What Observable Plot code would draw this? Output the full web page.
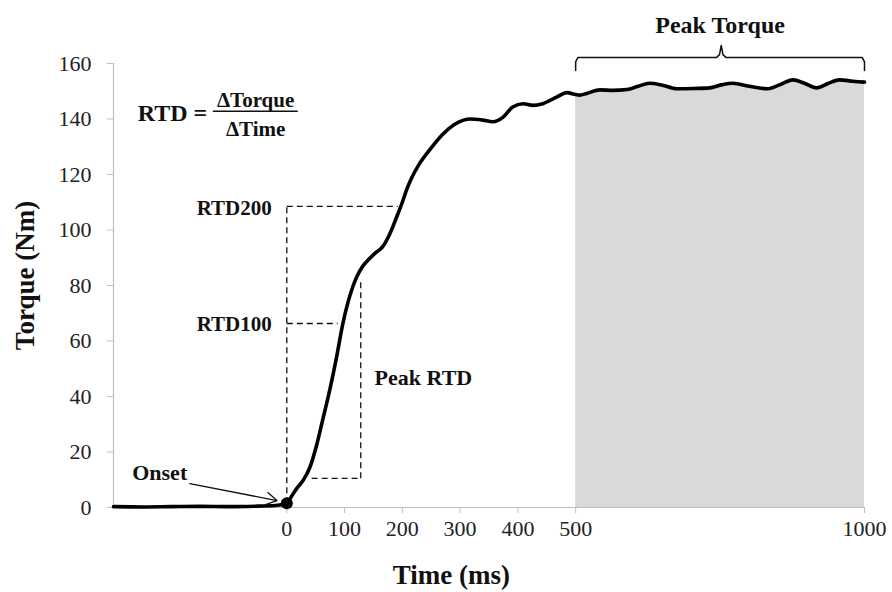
<!DOCTYPE html>
<html>
<head>
<meta charset="utf-8">
<script src="https://cdn.jsdelivr.net/npm/d3@7"></script>
<script src="https://cdn.jsdelivr.net/npm/@observablehq/plot@0.6"></script>
<style>
  html, body { margin: 0; padding: 0; background: #fff; }
  #chart svg { display: block; }
</style>
</head>
<body>
<div id="chart"></div>
<script>
// Torque-time curve (ms, Nm)
const timeMs = [-300, -250, -200, -150, -100, -50, -20, 0, 8, 17, 28, 40, 51, 62, 74, 86, 97, 106, 115, 122, 130, 140, 152, 166, 178, 190, 200, 207, 215, 230, 250, 270, 290, 306, 317, 339, 357, 374, 391, 409, 426, 443, 467, 485, 500, 507, 519, 542, 565, 589, 608, 628, 650, 675, 705, 732, 752, 772, 800, 831, 853, 876, 897, 917, 937, 957, 980, 1000];
const torqueNm = [0.3, 0.2, 0.3, 0.4, 0.3, 0.5, 0.7, 1.5, 4, 6.8, 9.7, 14.5, 22, 31.5, 42, 54, 66.3, 74, 80, 83.5, 86.5, 89, 91.5, 94, 98.5, 104.6, 110, 114.3, 118.3, 124, 129.6, 134.5, 138, 139.6, 140, 139.6, 139, 140.6, 144.3, 145.5, 144.9, 145.5, 147.9, 149.5, 148.8, 148.6, 149.2, 150.5, 150.3, 150.6, 151.8, 152.9, 152.2, 150.9, 151, 151.2, 152.3, 152.9, 151.8, 150.9, 152.3, 154.1, 152.8, 151.2, 152.8, 154.1, 153.6, 153.3];
const xTicks = [0, 100, 200, 300, 400, 500, 1000];
const yTicks = [0, 20, 40, 60, 80, 100, 120, 140, 160];

// annotation values
const onset = {t: 0, T: 1.5};
const rtd200 = {t: 192, T: 108.5};
const rtd100 = {t: 88, T: 66.3};
const peakRtd = {t0: 43, t1: 128, T0: 10.5, T1: 82.5};
const peakStart = 500;

const data = timeMs.map((t, i) => ({t, T: torqueNm[i]}));
const serif = "'Liberation Serif', 'Times New Roman', serif";
const dash = {stroke: "#111", strokeWidth: 1.3, strokeDasharray: "6,4"};

const brace = [
  [500, 157.5], [500, 160.6], [504, 162.2], [744, 162.2], [749, 163.2], [752, 166.5],
  [755, 163.2], [760, 162.2], [996, 162.2], [1000, 160.6], [1000, 157.5]
].map(([t, T]) => ({t, T}));

const chart = Plot.plot({
  width: 892,
  height: 592,
  marginLeft: 113,
  marginRight: 28,
  marginTop: 63,
  marginBottom: 85,
  x: {domain: [-300, 1000]},
  y: {domain: [0, 160]},
  style: {fontFamily: serif, background: "#fff", color: "#111", overflow: "visible"},
  marks: [
    Plot.areaY(data.filter(d => d.t >= peakStart), {x: "t", y: "T", fill: "#d9d9d9", curve: "monotone-x"}),
    Plot.ruleX([-300], {stroke: "#bfbfbf", strokeWidth: 1.2}),
    Plot.ruleY([0], {stroke: "#bfbfbf", strokeWidth: 1.2}),
    Plot.axisY({ticks: yTicks, tickSize: 6, tickFormat: () => "", stroke: "#bfbfbf", label: null}),
    Plot.axisY({ticks: yTicks, tickSize: 0, tickPadding: 22, fontSize: 22, fill: "#222", label: null, tickFormat: d => String(d)}),
    Plot.axisX({ticks: xTicks, tickSize: 6, tickFormat: () => "", stroke: "#bfbfbf", label: null}),
    Plot.axisX({ticks: xTicks, tickSize: 0, tickPadding: 13, fontSize: 22, fill: "#222", label: null, tickFormat: d => String(d)}),
    // dashed construction lines
    Plot.link([0], {x1: onset.t, x2: onset.t, y1: onset.T, y2: rtd200.T, ...dash}),
    Plot.link([0], {x1: onset.t, x2: rtd200.t, y1: rtd200.T, y2: rtd200.T, ...dash}),
    Plot.link([0], {x1: onset.t, x2: rtd100.t, y1: rtd100.T, y2: rtd100.T, ...dash}),
    Plot.link([0], {x1: peakRtd.t1, x2: peakRtd.t1, y1: peakRtd.T0, y2: peakRtd.T1, ...dash}),
    Plot.link([0], {x1: peakRtd.t0, x2: peakRtd.t1, y1: peakRtd.T0, y2: peakRtd.T0, ...dash}),
    // curve
    Plot.line(data, {x: "t", y: "T", stroke: "#000", strokeWidth: 3.6, curve: "monotone-x"}),
    Plot.dot([onset], {x: "t", y: "T", r: 6, fill: "#000"}),
    // onset arrow
    Plot.arrow([0], {x1: -168, y1: 8.6, x2: -17, y2: 2.5, stroke: "#111", strokeWidth: 1.3, headLength: 14}),
    Plot.text(["Onset"], {x: -220, y: 12.3, fontSize: 22, fontWeight: "bold", fill: "#111"}),
    Plot.text(["RTD200"], {x: -26, y: 107.7, textAnchor: "end", fontSize: 21, fontWeight: "bold", fill: "#111"}),
    Plot.text(["RTD100"], {x: -26, y: 66, textAnchor: "end", fontSize: 21, fontWeight: "bold", fill: "#111"}),
    Plot.text(["Peak RTD"], {x: 152, y: 46.8, textAnchor: "start", fontSize: 22, fontWeight: "bold", fill: "#111"}),
    // formula
    Plot.text(["RTD ="], {x: -258, y: 142, textAnchor: "start", fontSize: 24, fontWeight: "bold", fill: "#111"}),
    Plot.text(["ΔTorque"], {x: -54, y: 146.9, fontSize: 21, fontWeight: "bold", fill: "#111"}),
    Plot.text(["ΔTime"], {x: -54, y: 136.2, fontSize: 21, fontWeight: "bold", fill: "#111"}),
    Plot.link([0], {x1: -128, x2: 19, y1: 142.8, y2: 142.8, stroke: "#111", strokeWidth: 1.5}),
    // peak torque brace
    Plot.line(brace, {x: "t", y: "T", stroke: "#111", strokeWidth: 1.5, curve: "linear"}),
    Plot.text(["Peak Torque"], {x: 750, y: 173.7, fontSize: 24, fontWeight: "bold", fill: "#111"}),
    // axis titles
    Plot.text(["Torque (Nm)"], {x: -300, y: 83.6, dx: -88, rotate: -90, fontSize: 27, fontWeight: "bold", fill: "#111"}),
    Plot.text(["Time (ms)"], {x: 285, frameAnchor: "bottom", dy: 76, fontSize: 27, fontWeight: "bold", fill: "#111"})
  ]
});
document.getElementById("chart").appendChild(chart);
</script>
</body>
</html>
